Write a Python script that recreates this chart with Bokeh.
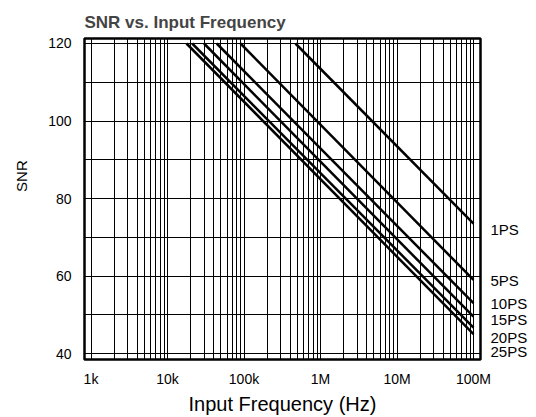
import math
from bokeh.plotting import figure
from bokeh.models import FixedTicker, ColumnDataSource, LinearAxis
from bokeh.embed import file_html
from bokeh.resources import INLINE

# ---------------- data ----------------
jitter_labels = ["1PS", "5PS", "10PS", "15PS", "20PS", "25PS"]
# frequency (Hz) at which each curve leaves the top of the chart (SNR = 120)
start_freq = [470e3, 90e3, 44e3, 30e3, 21e3, 17.7e3]
start_snr = [120, 120, 120, 120, 120, 120]
# SNR reached at the right edge (100 MHz)
end_freq = [100e6, 100e6, 100e6, 100e6, 100e6, 100e6]
end_snr = [73.5, 59.0, 53.0, 49.5, 46.7, 45.0]

x_tick_values = [1000, 10000, 100000, 1000000, 10000000, 100000000]
x_tick_labels = ["1k", "10k", "100k", "1M", "10M", "100M"]
y_tick_values = [40, 60, 80, 100, 120]
y_tick_labels = ["40", "60", "80", "100", "120"]
y_grid_values = [40, 50, 60, 70, 80, 90, 100, 110, 120]

# ---------------- layout ----------------
FONT = "Liberation Sans"
W, H = 536, 417
BL, BT, BR, BB = 84, 38, 56, 57            # borders around the frame
X_LO, X_HI = 822.0, 1.234e8
Y_LO, Y_HI = 38.46, 121.29
# vertical positions (in SNR units) of the right-hand curve labels
label_pos = [72.0, 58.9, 52.9, 48.7, 44.2, 40.6]
snr_title_pos = 85.8

p = figure(x_axis_type="log", x_range=(X_LO, X_HI), y_range=(Y_LO, Y_HI),
           width=W, height=H,
           min_border_left=BL, min_border_top=BT,
           min_border_right=BR, min_border_bottom=BB,
           output_backend="svg", toolbar_location=None)

p.title.text = "SNR vs. Input Frequency"
p.title.text_font = FONT
p.title.text_font_size = "17px"
p.title.text_font_style = "bold"
p.title.align = "left"
p.title.offset = 0
p.title.standoff = 14

p.outline_line_color = "black"
p.outline_line_width = 2.5
p.background_fill_color = "white"
p.border_fill_color = "white"

# grids
grid_x = []
for d in range(3, 8):
    for k in range(1, 10):
        grid_x.append(k * 10 ** d)
grid_x.append(10 ** 8)
p.xgrid.ticker = FixedTicker(ticks=grid_x)
p.ygrid.ticker = FixedTicker(ticks=y_grid_values)
for g in (p.xgrid, p.ygrid):
    g.grid_line_color = "black"
    g.grid_line_alpha = 1.0
    g.grid_line_width = 1


def style_axis(ax, size="14px"):
    ax.axis_line_color = None
    ax.major_tick_line_color = None
    ax.minor_tick_line_color = None
    ax.major_tick_in = 0
    ax.major_tick_out = 0
    ax.minor_tick_in = 0
    ax.minor_tick_out = 0
    ax.major_label_text_font = FONT
    ax.major_label_text_font_size = size
    ax.major_label_text_color = "black"


# main axes
p.xaxis.ticker = FixedTicker(ticks=x_tick_values)
p.xaxis.major_label_overrides = {v: l for v, l in zip(x_tick_values, x_tick_labels)}
p.yaxis.ticker = FixedTicker(ticks=y_tick_values)
p.yaxis.major_label_overrides = {v: l for v, l in zip(y_tick_values, y_tick_labels)}
style_axis(p.xaxis[0])
style_axis(p.yaxis[0])
p.xaxis.major_label_standoff = 11
p.yaxis.major_label_standoff = 13

p.xaxis.axis_label = "Input Frequency (Hz)"
p.xaxis.axis_label_text_font = FONT
p.xaxis.axis_label_text_font_size = "20px"
p.xaxis.axis_label_text_font_style = "normal"
p.xaxis.axis_label_text_color = "black"
p.xaxis.axis_label_standoff = 3

# "SNR" title as a one-tick axis outside the value axis
snr_axis = LinearAxis(ticker=FixedTicker(ticks=[snr_title_pos]),
                      major_label_overrides={snr_title_pos: "SNR"},
                      major_label_orientation="vertical")
style_axis(snr_axis, "15px")
snr_axis.major_label_standoff = 15
p.add_layout(snr_axis, "left")

# right-hand curve labels as a labelled axis
lab_axis = LinearAxis(ticker=FixedTicker(ticks=label_pos),
                      major_label_overrides={v: t for v, t in zip(label_pos, jitter_labels)})
style_axis(lab_axis, "15px")
lab_axis.major_label_standoff = 10
p.add_layout(lab_axis, "right")

# curves
src = ColumnDataSource(dict(
    xs=[[a, b] for a, b in zip(start_freq, end_freq)],
    ys=[[a, b] for a, b in zip(start_snr, end_snr)],
))
p.multi_line(xs="xs", ys="ys", source=src, line_color="black", line_width=2.5)

open("out.html", "w").write(file_html(p, INLINE))
